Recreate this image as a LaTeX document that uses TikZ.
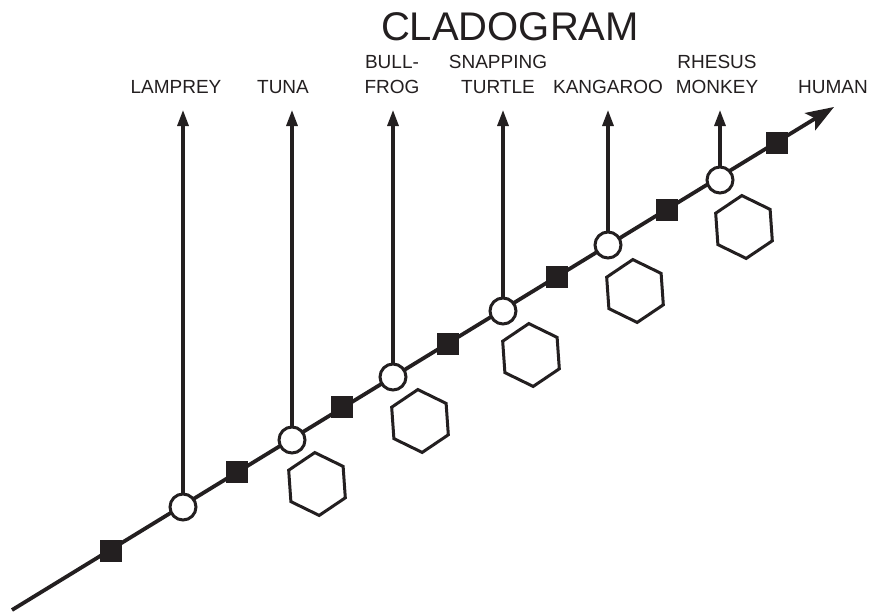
\documentclass[tikz,border=0pt]{standalone}
\usepackage{fontspec}
\setmainfont{Liberation Sans}
\usetikzlibrary{arrows.meta,shapes.geometric}
\definecolor{ink}{HTML}{231F20}
\begin{document}
\begin{tikzpicture}[x=1pt,y=-1pt]
\tikzset{
 mainline/.style={line width=3.8pt, draw=ink, -{Stealth[length=28pt,width=20pt,inset=6pt]}},
 branch/.style={line width=3.1pt, draw=ink, -{Triangle[length=16pt,width=11pt]}},
 nodecirc/.style={circle, draw=ink, fill=white, line width=3pt, minimum size=26pt, inner sep=0pt},
 trait/.style={rectangle, fill=ink, minimum size=22.5pt, inner sep=0pt},
 hexa/.style={regular polygon, regular polygon sides=6, draw=ink, line width=3pt, minimum size=63pt, inner sep=0pt, rotate=34},
 taxon/.style={font=\fontsize{19}{25}\selectfont, text=ink, align=center, anchor=base, inner sep=0pt},
 titletext/.style={font=\fontsize{40}{48}\selectfont, text=ink, anchor=base, inner sep=0pt},
}
\useasboundingbox (0,0) rectangle (871,613);
\fill[white] (0,0) rectangle (871,613);

% main axis
\coordinate (start) at (12,610);
\coordinate (end) at (834,107);
\draw[mainline] (start) -- (end);

% traits (squares)
\node[trait] (s1) at (111,551) {};
\node[trait] (s2) at (237,472) {};
\node[trait] (s3) at (342,407) {};
\node[trait] (s4) at (448,344) {};
\node[trait] (s5) at (557,277) {};
\node[trait] (s6) at (667,210) {};
\node[trait] (s7) at (777,143) {};

% branch points (circles)
\node[nodecirc] (c1) at (183,507) {};
\node[nodecirc] (c2) at (292,440) {};
\node[nodecirc] (c3) at (393,377) {};
\node[nodecirc] (c4) at (503,311) {};
\node[nodecirc] (c5) at (608,245) {};
\node[nodecirc] (c6) at (720,180) {};

% hexagons
\node[hexa] (h2) at (317,484) {};
\node[hexa] (h3) at (420,421) {};
\node[hexa] (h4) at (531,355) {};
\node[hexa] (h5) at (635,291) {};
\node[hexa] (h6) at (744,227) {};

% branch tips
\coordinate (t1) at (183,110);
\coordinate (t2) at (292,110);
\coordinate (t3) at (393,110);
\coordinate (t4) at (503,110);
\coordinate (t5) at (608,110);
\coordinate (t6) at (720,110);
\foreach \i in {1,...,6} {\draw[branch] (c\i.north) -- (t\i);}

% labels
\node[titletext] (title) at (510,40) {CLADOGRAM};
\node[taxon] (l1) at (176,93) {LAMPREY};
\node[taxon] (l2) at (283,93) {TUNA};
\node[taxon] (l3) at (392,93) {BULL-\\FROG};
\node[taxon] (l4) at (498,93) {SNAPPING\\TURTLE};
\node[taxon] (l5) at (608,93) {KANGAROO};
\node[taxon] (l6) at (717,93) {RHESUS\\MONKEY};
\node[taxon] (l7) at (833,93) {HUMAN};
\end{tikzpicture}
\end{document}
